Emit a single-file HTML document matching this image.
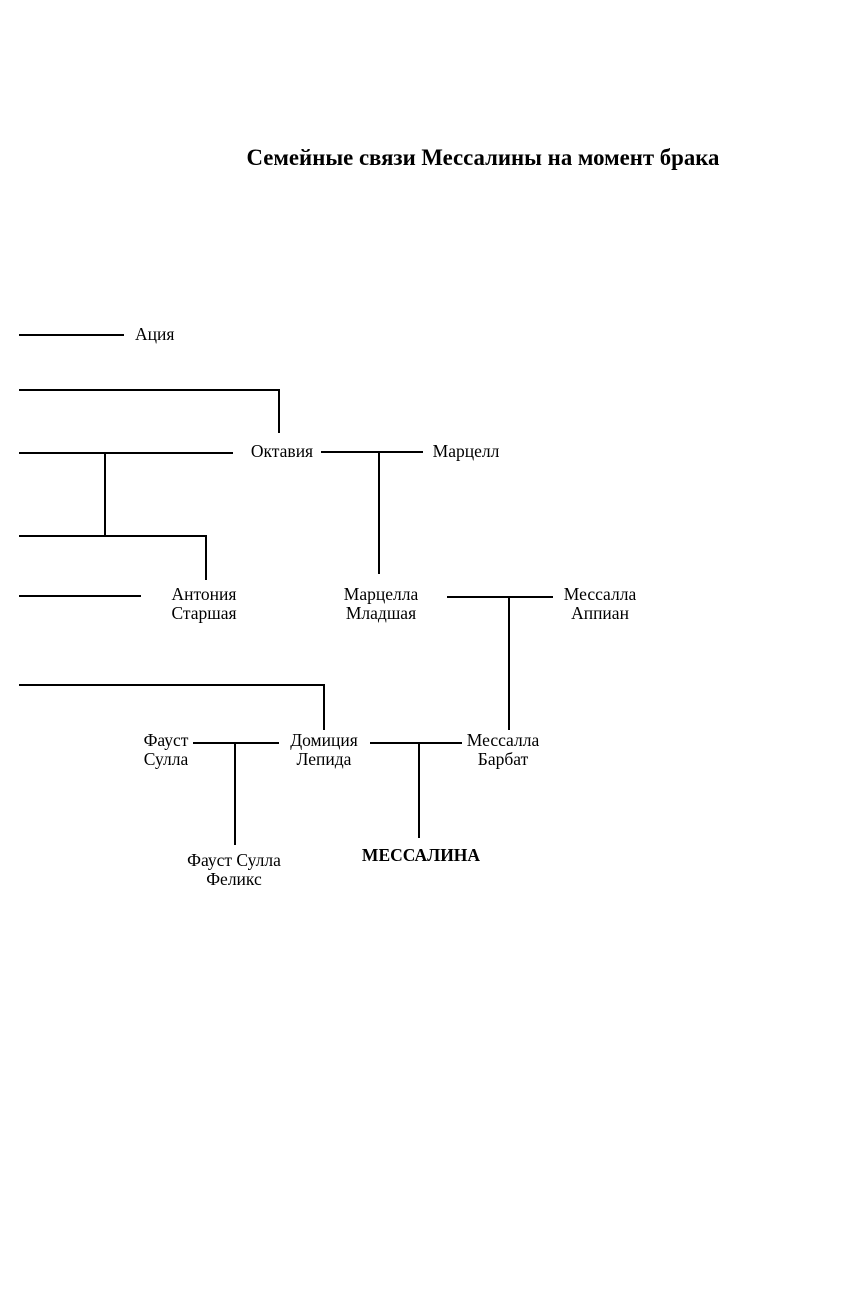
<!DOCTYPE html>
<html><head><meta charset="utf-8"><style>
html,body{margin:0;padding:0;background:#fff;}
svg{display:block;}
text{font-family:"Liberation Serif",serif;font-size:17.5px;fill:#000;}
</style></head><body>
<svg width="862" height="1299" viewBox="0 0 862 1299" xmlns="http://www.w3.org/2000/svg">
<text x="483" y="165" text-anchor="middle" style="font-size:22.8px;font-weight:bold">Семейные связи Мессалины на момент брака</text>
<g stroke="#000" stroke-width="2" fill="none">
<line x1="19" y1="335" x2="124" y2="335"/>
<line x1="19" y1="390" x2="280" y2="390"/>
<line x1="279" y1="389" x2="279" y2="433"/>
<line x1="19" y1="453" x2="233" y2="453"/>
<line x1="321" y1="452" x2="423" y2="452"/>
<line x1="105" y1="453" x2="105" y2="536"/>
<line x1="19" y1="536" x2="207" y2="536"/>
<line x1="206" y1="535" x2="206" y2="580"/>
<line x1="379" y1="452" x2="379" y2="574"/>
<line x1="19" y1="596" x2="141" y2="596"/>
<line x1="447" y1="597" x2="553" y2="597"/>
<line x1="509" y1="597" x2="509" y2="730"/>
<line x1="19" y1="685" x2="325" y2="685"/>
<line x1="324" y1="684" x2="324" y2="730"/>
<line x1="193" y1="743" x2="279" y2="743"/>
<line x1="235" y1="743" x2="235" y2="845"/>
<line x1="370" y1="743" x2="462" y2="743"/>
<line x1="419" y1="743" x2="419" y2="838"/>
</g>
<text x="135" y="340">Ация</text>
<text x="282" y="457" text-anchor="middle">Октавия</text>
<text x="466" y="457" text-anchor="middle">Марцелл</text>
<text x="204" y="600" text-anchor="middle">Антония</text>
<text x="204" y="619" text-anchor="middle">Старшая</text>
<text x="381" y="600" text-anchor="middle">Марцелла</text>
<text x="381" y="619" text-anchor="middle">Младшая</text>
<text x="600" y="600" text-anchor="middle">Мессалла</text>
<text x="600" y="619" text-anchor="middle">Аппиан</text>
<text x="166" y="746" text-anchor="middle">Фауст</text>
<text x="166" y="765" text-anchor="middle">Сулла</text>
<text x="324" y="746" text-anchor="middle">Домиция</text>
<text x="324" y="765" text-anchor="middle">Лепида</text>
<text x="503" y="746" text-anchor="middle">Мессалла</text>
<text x="503" y="765" text-anchor="middle">Барбат</text>
<text x="234" y="866" text-anchor="middle">Фауст Сулла</text>
<text x="234" y="885" text-anchor="middle">Феликс</text>
<text x="421" y="861" text-anchor="middle" style="font-weight:bold">МЕССАЛИНА</text>
</svg>
</body></html>
